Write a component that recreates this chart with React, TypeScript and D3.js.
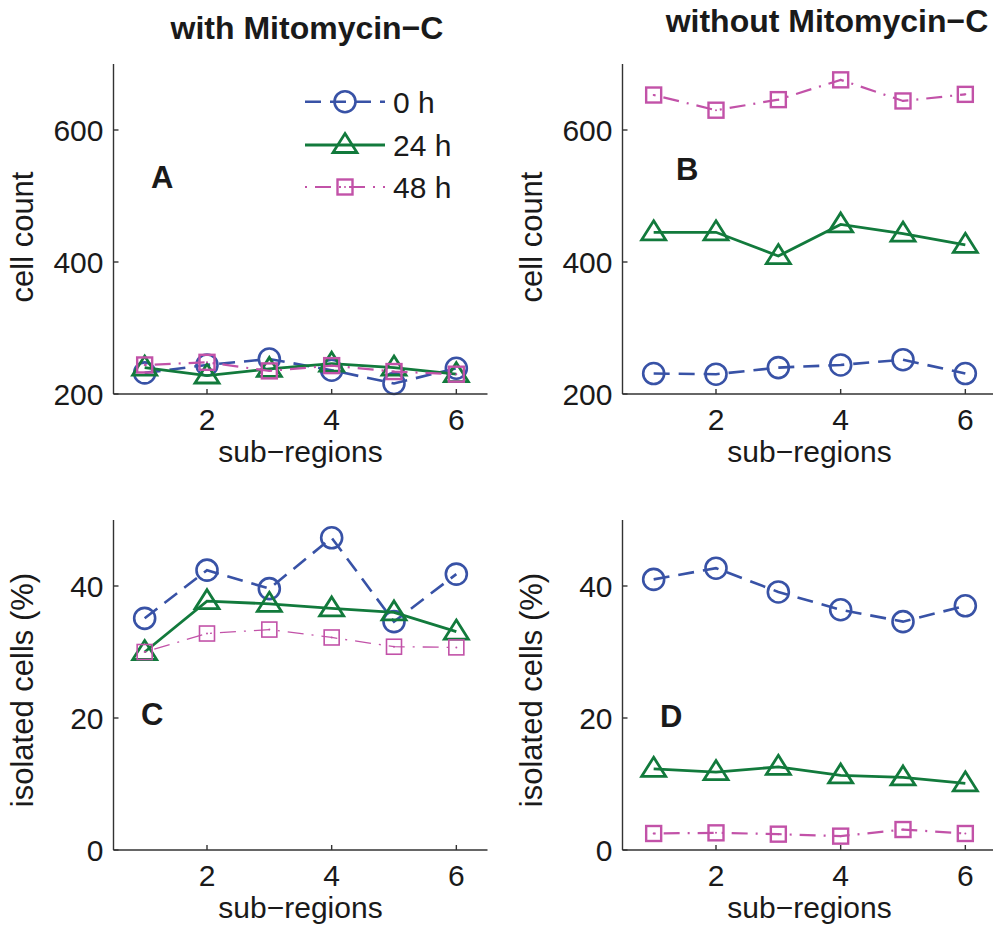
import * as d3 from 'd3';

// sub-regions on the x axis
const subRegions = [1, 2, 3, 4, 5, 6];
const xTicks = [2, 4, 6];
const countTicks = [200, 400, 600];
const pctTicks = [0, 20, 40];

// A: cell count, with Mitomycin-C
const countWith0h = [232, 244, 253, 236, 216, 239];
const countWith24h = [240, 228, 238, 246, 240, 230];
const countWith48h = [244, 248, 235, 243, 234, 230];

// B: cell count, without Mitomycin-C
const countWithout0h = [231, 230, 240, 244, 252, 231];
const countWithout24h = [445, 445, 409, 457, 443, 426];
const countWithout48h = [653, 630, 646, 676, 644, 654];

// C: isolated cells (%), with Mitomycin-C
const isoWith0h = [35.1, 42.4, 39.6, 47.3, 34.6, 41.8];
const isoWith24h = [30.0, 37.7, 37.3, 36.6, 36.0, 33.1];
const isoWith48h = [30.0, 32.8, 33.4, 32.2, 30.8, 30.7];

// D: isolated cells (%), without Mitomycin-C
const isoWithout0h = [41.0, 42.7, 39.1, 36.4, 34.6, 37.0];
const isoWithout24h = [12.3, 11.8, 12.6, 11.3, 11.0, 10.1];
const isoWithout48h = [2.5, 2.6, 2.4, 2.1, 3.1, 2.5];

const seriesNames = ['0 h', '24 h', '48 h'];

const FONT = '"Liberation Sans", Arial, Helvetica, sans-serif';
const INK = '#1a1a1a';
const AXIS = '#333';

type Kind = 'circle' | 'triangle' | 'square';
interface Style {
  color: string;
  dash: string;
  width: number;
  marker: Kind;
}

const styles: Style[] = [
  { color: '#3852a6', dash: '16 9', width: 2.6, marker: 'circle' },
  { color: '#127a3c', dash: '', width: 2.8, marker: 'triangle' },
  { color: '#c252a8', dash: '2 8 16 8', width: 2.2, marker: 'square' },
];

const Marker = ({ kind, x, y, color, sw }: { kind: Kind; x: number; y: number; color: string; sw: number }) => {
  if (kind === 'circle') {
    return <circle cx={x} cy={y} r={10.5} fill="none" stroke={color} strokeWidth={2.6} />;
  }
  if (kind === 'triangle') {
    const p = `${x},${y - 11.5} ${x + 12},${y + 7.5} ${x - 12},${y + 7.5}`;
    return <polygon points={p} fill="none" stroke={color} strokeWidth={2.8} strokeLinejoin="miter" />;
  }
  return (
    <g>
      <rect x={x - 7.5} y={y - 7.5} width={15} height={15} fill="none" stroke={color} strokeWidth={sw} />
      <circle cx={x} cy={y} r={1} fill={color} />
    </g>
  );
};

interface PanelProps {
  left: number;
  top: number;
  bottom: number;
  yDomain: [number, number];
  yTicks: number[];
  series: number[][];
  ylabel: string;
  ylabelY: number;
  letter: string;
  letterX: number;
  letterY: number;
  thin48?: boolean;
}

const Panel = ({ left, top, bottom, yDomain, yTicks, series, ylabel, ylabelY, letter, letterX, letterY, thin48 }: PanelProps) => {
  const x = d3.scaleLinear().domain([0.5, 6.5]).range([left, left + 374]);
  const y = d3.scaleLinear().domain(yDomain).range([bottom, top]);

  return (
    <g fontFamily={FONT} fill={INK}>
      {series.map((vals, si) => {
        const st = styles[si];
        const w = si === 2 && thin48 ? 1.3 : st.width;
        const line = d3
          .line<number>()
          .x((_, i) => x(subRegions[i]))
          .y((d) => y(d));
        return (
          <g key={si}>
            <path d={line(vals) || ''} fill="none" stroke={st.color} strokeWidth={w} strokeDasharray={st.dash} />
            {vals.map((v, i) => (
              <Marker key={i} kind={st.marker} x={x(subRegions[i])} y={y(v)} color={st.color} sw={si === 2 && thin48 ? 1.6 : 2.4} />
            ))}
          </g>
        );
      })}
      {/* axes */}
      <line x1={left} x2={left} y1={top} y2={bottom} stroke={AXIS} strokeWidth={1.4} />
      <line x1={left} x2={left + 374} y1={bottom} y2={bottom} stroke={AXIS} strokeWidth={1.4} />
      {yTicks.map((t) => (
        <g key={t}>
          <line x1={left} x2={left + 5} y1={y(t)} y2={y(t)} stroke={AXIS} strokeWidth={1.4} />
          <text x={left - 10} y={y(t)} dy="0.36em" textAnchor="end" fontSize={30}>
            {t}
          </text>
        </g>
      ))}
      {xTicks.map((t) => (
        <g key={t}>
          <line x1={x(t)} x2={x(t)} y1={bottom} y2={bottom - 5} stroke={AXIS} strokeWidth={1.4} />
          <text x={x(t)} y={bottom + 36} textAnchor="middle" fontSize={30}>
            {t}
          </text>
        </g>
      ))}
      <text x={x(3.5)} y={bottom + 68} textAnchor="middle" fontSize={30}>
        sub−regions
      </text>
      <text transform={`translate(${left - 81},${ylabelY}) rotate(-90)`} textAnchor="middle" fontSize={31}>
        {ylabel}
      </text>
      <text x={letterX} y={letterY} fontSize={31} fontWeight="bold">
        {letter}
      </text>
    </g>
  );
};

const Legend = () => {
  const rows = [101.7, 145, 187];
  return (
    <g fontFamily={FONT} fill={INK}>
      {seriesNames.map((name, i) => {
        const st = styles[i];
        return (
          <g key={name}>
            <line x1={305} x2={385} y1={rows[i]} y2={rows[i]} stroke={st.color} strokeWidth={i === 2 ? 2.2 : st.width} strokeDasharray={st.dash} />
            <Marker kind={st.marker} x={345} y={rows[i]} color={st.color} sw={2.4} />
            <text x={393} y={rows[i]} dy="0.36em" fontSize={30}>
              {name}
            </text>
          </g>
        );
      })}
    </g>
  );
};

export default function App() {
  return (
    <svg width={993} height={930} style={{ position: 'absolute', left: 0, top: 0, background: '#fff' }}>
      <rect width={993} height={930} fill="#fff" />
      <text x={307} y={39} textAnchor="middle" fontFamily={FONT} fontWeight="bold" fontSize={32} fill={INK}>
        with Mitomycin−C
      </text>
      <text x={827} y={32} textAnchor="middle" fontFamily={FONT} fontWeight="bold" fontSize={32} fill={INK}>
        without Mitomycin−C
      </text>
      <Panel
        left={113.5}
        top={64}
        bottom={394}
        yDomain={[200, 700]}
        yTicks={countTicks}
        series={[countWith0h, countWith24h, countWith48h]}
        ylabel="cell count"
        ylabelY={237}
        letter="A"
        letterX={151}
        letterY={188}
      />
      <Legend />
      <Panel
        left={622.5}
        top={64}
        bottom={394}
        yDomain={[200, 700]}
        yTicks={countTicks}
        series={[countWithout0h, countWithout24h, countWithout48h]}
        ylabel="cell count"
        ylabelY={237}
        letter="B"
        letterX={676}
        letterY={180}
      />
      <Panel
        left={113.5}
        top={520}
        bottom={850}
        yDomain={[0, 50]}
        yTicks={pctTicks}
        series={[isoWith0h, isoWith24h, isoWith48h]}
        ylabel="isolated cells (%)"
        ylabelY={690}
        letter="C"
        letterX={141}
        letterY={725}
        thin48
      />
      <Panel
        left={622.5}
        top={520}
        bottom={850}
        yDomain={[0, 50]}
        yTicks={pctTicks}
        series={[isoWithout0h, isoWithout24h, isoWithout48h]}
        ylabel="isolated cells (%)"
        ylabelY={690}
        letter="D"
        letterX={660}
        letterY={727}
      />
    </svg>
  );
}
